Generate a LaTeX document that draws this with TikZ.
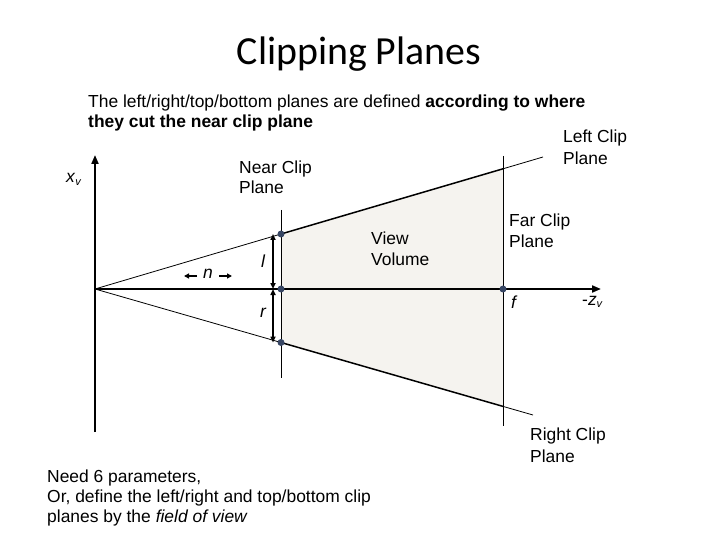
\documentclass[tikz,border=0pt]{standalone}
\usepackage{fontspec}
\setmainfont{Liberation Sans}
\newfontfamily\titlefont{Carlito}
\usetikzlibrary{arrows.meta}
\definecolor{dotblue}{RGB}{55,70,100}
\definecolor{volfill}{RGB}{245,243,239}
\begin{document}
\begin{tikzpicture}[x=1bp,y=-1bp,
  lbl/.style={anchor=base west, inner sep=0pt, font=\fontsize{17.5}{20}\selectfont},
  axis/.style={line width=2bp, -{Triangle[length=9bp,width=7bp]}},
  thinline/.style={line width=0.8bp},
  edge/.style={line width=1.5bp},
  dim/.style={line width=1.6bp, {Triangle[length=6bp,width=5bp]}-{Triangle[length=6bp,width=5bp]}},
  small/.style={line width=1.5bp, -{Triangle[length=5bp,width=5bp]}},
  dot/.style={circle, fill=dotblue, inner sep=0pt, minimum size=7bp}]
\useasboundingbox (0,0) rectangle (720,540);

% coordinates
\coordinate (O) at (95,289);
\coordinate (AxTop) at (95,155);
\coordinate (AxBot) at (95,432);
\coordinate (ZEnd) at (601,289);
\coordinate (NT) at (281,234);
\coordinate (NM) at (281,289);
\coordinate (NB) at (281,342.5);
\coordinate (FT) at (503,168.8);
\coordinate (FM) at (503,289);
\coordinate (FB) at (503,406.4);
\coordinate (LE) at (543,157);
\coordinate (RE) at (533,415);
\coordinate (NPtop) at (281,210);
\coordinate (NPbot) at (281,378);
\coordinate (FPtop) at (503,156);
\coordinate (FPbot) at (503,426);
\coordinate (DT) at (273,234);
\coordinate (DM) at (273,289);
\coordinate (DB) at (273,342.5);
\coordinate (nL1) at (197,276);
\coordinate (nL2) at (184,276);
\coordinate (nR1) at (219,276);
\coordinate (nR2) at (232,276);

% view volume
\fill[volfill] (NT) -- (FT) -- (FB) -- (NB) -- cycle;

% planes
\draw[thinline] (NPtop) -- (NPbot);
\draw[thinline] (FPtop) -- (FPbot);

% frustum edges
\draw[thinline] (O) -- (NT);
\draw[thinline] (O) -- (NB);
\draw[edge] (NT) -- (FT);
\draw[edge] (NB) -- (FB);
\draw[thinline] (FT) -- (LE);
\draw[thinline] (FB) -- (RE);

% axes
\draw[line width=2bp] (AxBot) -- (O);
\draw[axis] (O) -- (AxTop);
\draw[axis] (O) -- (ZEnd);

% dimension arrows
\draw[dim] (DT) -- (DM);
\draw[dim] (DM) -- (DB);
\draw[small] (nL1) -- (nL2);
\draw[small] (nR1) -- (nR2);

% dots
\node[dot] (dNT) at (NT) {};
\node[dot] (dNM) at (NM) {};
\node[dot] (dNB) at (NB) {};
\node[dot] (dFM) at (FM) {};

% texts
\node[anchor=base, inner sep=0pt, font=\titlefont\fontsize{40}{46}\selectfont] (title) at (359,65) {Clipping Planes};
\node[lbl] (p1) at (88,107.5) {The left/right/top/bottom planes are defined \textbf{according to where}};
\node[lbl] (p2) at (88,128) {\textbf{they cut the near clip plane}};
\node[lbl] (lc1) at (563,143) {Left Clip};
\node[lbl] (lc2) at (563,164.5) {Plane};
\node[lbl] (nc1) at (239,173.5) {Near Clip};
\node[lbl] (nc2) at (239,194) {Plane};
\node[lbl] (xv) at (66,183) {\textit{x}\raisebox{-2.5bp}{\fontsize{11}{11}\selectfont\textit{v}}};
\node[lbl] (vv1) at (371,245) {View};
\node[lbl] (vv2) at (371,266) {Volume};
\node[lbl] (fc1) at (509,227) {Far Clip};
\node[lbl] (fc2) at (509,247.5) {Plane};
\node[lbl] (nlab) at (203,279) {\textit{n}};
\node[lbl] (llab) at (261,268) {\textit{l}};
\node[lbl] (rlab) at (260,317) {\textit{r}};
\node[lbl] (flab) at (511,308) {\textit{f}};
\node[lbl] (zlab) at (582,305) {-\textit{z}\raisebox{-2.5bp}{\fontsize{11}{11}\selectfont\textit{v}}};
\node[lbl] (rc1) at (530,440) {Right Clip};
\node[lbl] (rc2) at (530,462) {Plane};
\node[lbl] (b1) at (47,482) {Need 6 parameters,};
\node[lbl] (b2) at (47,502) {Or, define the left/right and top/bottom clip};
\node[lbl] (b3) at (47,522) {planes by the \textit{field of view}};
\end{tikzpicture}
\end{document}
